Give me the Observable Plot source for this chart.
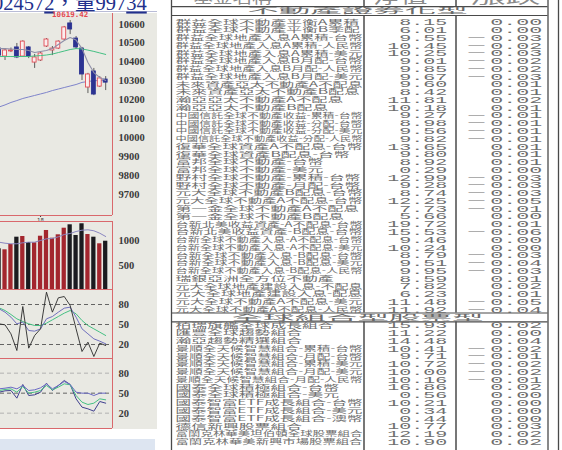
<!DOCTYPE html>
<html><head><meta charset="utf-8">
<script src="https://cdn.jsdelivr.net/npm/d3@7"></script>
<script src="https://cdn.jsdelivr.net/npm/@observablehq/plot@0.6"></script>
<style>
body{margin:0;background:#fff;}
#root{position:relative;width:562px;height:450px;overflow:hidden;background:#fff;}
.blk{position:absolute;}
</style></head>
<body><div id="root"></div>
<script>
// ---------------- DATA ----------------
const headlineParts = [{t:"02457"},{t:"2",u:true},{t:"，量997"},{t:"34",u:true}];
const open  = [10471,10429,10456,10477,10429,10477,10397,10408,10482,10461,10471,10519,10604,10524,10471,10265,10350,10270,10307];
const high  = [10477,10471,10474,10498,10512,10482,10440,10450,10524,10482,10512,10588,10619.42,10535,10477,10340,10366,10323,10323];
const low   = [10429,10408,10450,10418,10424,10418,10366,10403,10477,10434,10466,10514,10545,10466,10302,10233,10222,10265,10249];
const close = [10434,10461,10461,10424,10508,10429,10424,10445,10519,10471,10508,10583,10572,10477,10334,10334,10228,10313,10291];
const ma5   = [10471,10471,10469,10466,10466,10461,10450,10456,10461,10471,10493,10514,10530,10516,10471,10397,10344,10318,10302];
const ma20  = [10429,10429,10429,10429,10429,10429,10432,10434,10437,10442,10450,10458,10466,10471,10469,10463,10456,10448,10440];
const ma60  = [10162,10173,10186,10196,10207,10215,10223,10231,10239,10249,10257,10265,10273,10281,10292,10297,10301,10302,10305];
const volume= [838,817,927,1077,1091,968,962,1097,1215,1056,1126,1262,1332,1112,1353,1132,1077,941,994];
const volMa = [974,953,941,941,962,974,974,1009,1044,1050,1085,1132,1153,1194,1221,1229,1209,1159,1091];
const kdBlack = [51,49.5,36,11,77,14.5,33.5,43.5,98.5,68.5,90,92,78.5,43.5,9.5,23.5,2,22,18.5];
const kdPurple= [73.5,68.5,61,51,53.5,41,40,43.5,58.5,62,68.5,74.5,76,61,43.5,36,28.5,25,21];
const kdGreen = [75,71,65,58.5,54.5,51,48.5,48.5,52,57,62,67,71,66,56,48.5,43.5,38.5,33.5];
const oscA = [56.5,57.5,59,56.5,61.5,54,55,58,64,56.5,61.5,67.5,63,51.5,50,50,46.5,50,50];
const oscB = [54,55.5,56.5,51.5,60,50,51.5,54,61.5,55,59,64,62.5,46.5,36.5,33,35,41.5,40];
const oscC = [51.5,53.5,54,42.5,63,46.5,47.5,51.5,65,54,61.5,69,63,41.5,29,26.5,23,37.5,35];
const priceTicks = [9700,9800,9900,10000,10100,10200,10300,10400,10500,10600];
const volTicks = [500,1000];
const oscTicks = [20,50,80];
const dateTicks = [{i:7,label:"18"}];

const tableHeaders = ["基金名稱","淨值","漲跌"];
const sectionTitles = ["不動產證券化型","全球組合型股票型"];
const sec1Names = ["群益全球不動產平衡A累積","群益全球不動產平衡B季配","群益全球地產入息A累積-台幣","群益全球地產入息A累積-人民幣","群益全球地產入息A累積-美元","群益全球地產入息B月配-台幣","群益全球地產入息B月配-人民幣","群益全球地產入息B月配-美元","未來資產亞太不動產A不配息","未來資產亞太不動產B配息","瀚亞亞太不動產A不配息","瀚亞亞太不動產B配息","中國信託全球不動產收益-累積-台幣","中國信託全球不動產收益-分配-台幣","中國信託全球不動產收益-分配-美元","中國信託全球不動產收益-分配-人民幣","復華全球資產A不配息-台幣","復華全球資產B配息-台幣","富邦全球不動產-台幣","富邦全球不動產-美元","野村全球不動產-累積-台幣","野村全球不動產-月配-台幣","元大全球不動產B配息-台幣","元大全球不動產A不配息-台幣","第一金全球不動產A不配息","第一金全球不動產B配息","台新北美收益資產-A不配息-台幣","台新北美收益資產-B配息-台幣","台新全球不動產入息-A不配息-台幣","台新全球不動產入息-A不配息-美元","台新全球不動產入息-B配息-台幣","台新全球不動產入息-B配息-美元","台新全球不動產入息-B配息-人民幣","瑞銀亞洲全方位不動產","元大全球地產建設入息-不配息","元大全球地產建設入息-配息","元大全球不動產A不配息-美元","元大全球不動產A不配息-人民幣"];
const sec1Nav = [8.15,6.01,9.55,10.45,10.25,9.01,9.85,9.67,9.60,8.42,11.81,10.18,9.27,8.98,9.56,9.82,13.65,9.80,8.92,0.29,12.99,9.28,8.74,12.25,7.73,5.66,19.72,15.53,9.46,10.24,8.79,9.51,9.95,8.59,7.82,6.23,11.48,11.92];
const sec1Chg = [0.00,0.00,-0.03,-0.02,-0.03,-0.02,-0.02,-0.03,0.01,0.01,0.02,0.01,-0.01,-0.01,-0.01,-0.01,0.01,0.01,0.01,0.00,-0.03,-0.03,-0.03,-0.05,-0.01,0.00,0.01,-0.06,0.00,0.00,-0.03,-0.04,-0.03,0.01,0.02,0.01,-0.05,-0.04];
const sec2Names = ["柏瑞旗艦全球成長組合","匯豐全球趨勢組合","瀚亞趨勢精選組合","景順全天候智慧組合-累積-台幣","景順全天候智慧組合-月配-台幣","景順全天候智慧組合-累積-美元","景順全天候智慧組合-月配-美元","景順全天候智慧組合-月配-人民幣","國泰全球積極組合-台幣","國泰全球積極組合-美元","國泰智富ETF成長組合-台幣","國泰智富ETF成長組合-美元","國泰智富ETF成長組合-澳幣","德信新興股票組合","富蘭克林華美坦伯頓全球股票組合","富蘭克林華美新興市場股票組合"];
const sec2Nav = [15.93,11.22,14.48,10.41,9.71,10.72,10.00,10.16,16.86,0.56,10.21,0.34,0.44,10.77,12.19,10.90];
const sec2Chg = [0.02,0.00,0.04,-0.02,-0.01,-0.02,-0.02,-0.01,0.02,0.00,0.00,0.00,0.00,0.03,0.02,0.02];

// ---------------- LAYOUT ----------------
const root = document.getElementById("root");
function place(el, left, top){ el.style.position="absolute"; el.style.left=left+"px"; el.style.top=top+"px"; root.appendChild(el); return el; }
function block(left, top, w, h, bg){ const d=document.createElement("div"); d.className="blk"; Object.assign(d.style,{left:left+"px",top:top+"px",width:w+"px",height:h+"px",background:bg}); root.appendChild(d); return d; }

block(0, 13, 157, 416, "#e9e9e3");
block(0, 439, 155, 11, "#dde5f1");
block(0, 11, 157, 1, "#b9bcd6");

// headline
const hl = d3.create("svg").attr("width",157).attr("height",14).style("overflow","visible");
const ht = hl.append("text").attr("x",-7).attr("y",9.5).attr("font-family","Liberation Serif, Noto Sans CJK TC")
  .attr("font-size",20.5).attr("fill","#22308c");
headlineParts.forEach(p => ht.append("tspan").text(p.t).style("text-decoration", p.u ? "underline" : "none"));
place(hl.node(), 0, 0);

const candles = open.map((o,i)=>({i, o, h:high[i], l:low[i], c:close[i], v:volume[i], up: close[i] >= o}));
const xDomain = [0.236, 19.15];
const border = "#d9686c";
const axisStyle = {anchor:"right", label:null, tickSize:0, tickPadding:6, tickFormat:d=>String(d), fontSize:10.5,
  fontFamily:"Liberation Serif", fontWeight:"bold", color:"#3a3a3a"};
const series = arr => arr.map((v,i)=>({i, v}));

function panel(top, opts, marks){
  const p = Plot.plot(Object.assign({
    width:157, marginLeft:0, marginRight:45, marginTop:0, marginBottom:0,
    x:{domain:xDomain, axis:null},
    style:{background:"transparent", overflow:"visible"},
    marks
  }, opts));
  return place(p, 0, top);
}

// price panel
const priceDomain = [9588, 10656.6];
const maxHigh = d3.max(high);
panel(0, {height:221, marginTop:13, marginBottom:6, y:{domain:priceDomain, axis:null}}, [
  Plot.axisY(priceTicks, axisStyle),
  Plot.axisX(dateTicks.map(d=>d.i), {anchor:"bottom", label:null, tickSize:2, tickPadding:0,
    tickFormat:i=>dateTicks.find(d=>d.i===i).label, fontSize:6, color:"#333"}),
  Plot.ruleX([xDomain[1]], {stroke:border}),
  Plot.ruleY([priceDomain[0]], {stroke:border}),
  Plot.line(series(ma60), {x:"i", y:"v", stroke:"#7f84cb", strokeWidth:1}),
  Plot.ruleX(candles, {x:"i", y1:"l", y2:"h", stroke:"#3a3a3a", strokeWidth:0.8}),
  Plot.rect(candles.filter(d=>d.up), {x1:d=>d.i-0.33, x2:d=>d.i+0.33, y1:"o", y2:"c", fill:"#fbeeee", stroke:"#e14d57", strokeWidth:0.9}),
  Plot.rect(candles.filter(d=>!d.up), {x1:d=>d.i-0.33, x2:d=>d.i+0.33, y1:"o", y2:"c", fill:"#2c3392", stroke:"#2c3392", strokeWidth:0.9}),
  Plot.line(series(ma20), {x:"i", y:"v", stroke:"#45c083", strokeWidth:1}),
  Plot.line(series(ma5), {x:"i", y:"v", stroke:"#8f8fa8", strokeWidth:1.1}),
  Plot.text(candles.filter(d=>d.h===maxHigh), {x:"i", y:"h", text:d=>d.h.toFixed(2), dy:-5.5,
    fill:"#e5484f", fontSize:7.5, fontFamily:"DejaVu Sans Mono", fontWeight:"bold"})
]);

// volume panel
const volDomain = [0, 1400];
panel(221, {height:68, y:{domain:volDomain, axis:null}}, [
  Plot.axisY(volTicks, axisStyle),
  Plot.rect(candles, {x1:d=>d.i-0.36, x2:d=>d.i+0.36, y1:()=>0, y2:"v", fill:d=>d.up ? "#a3262e" : "#1b1b1f"}),
  Plot.line(series(volMa), {x:"i", y:"v", stroke:"#8a86c0", strokeWidth:1}),
  Plot.ruleX([xDomain[1]], {stroke:border}),
  Plot.ruleY(volDomain, {stroke:border})
]);

// KD panel
const kdDomain = [-1, 102.5];
panel(289, {height:69, y:{domain:kdDomain, axis:null}}, [
  Plot.ruleY(oscTicks, {stroke:"#555", strokeDasharray:"4,3", strokeWidth:0.9}),
  Plot.axisY(oscTicks, axisStyle),
  Plot.line(series(kdGreen), {x:"i", y:"v", stroke:"#45c083", strokeWidth:1}),
  Plot.line(series(kdPurple), {x:"i", y:"v", stroke:"#6f6fbd", strokeWidth:1}),
  Plot.line(series(kdBlack), {x:"i", y:"v", stroke:"#2a2a2a", strokeWidth:0.9}),
  Plot.ruleX([xDomain[1]], {stroke:border}),
  Plot.ruleY([kdDomain[0]], {stroke:border})
]);

// oscillator panel
const oscDomain = [-3, 102];
panel(358, {height:70, y:{domain:oscDomain, axis:null}}, [
  Plot.ruleY([20,80], {stroke:"#aaa", strokeDasharray:"4,3", strokeWidth:0.9}),
  Plot.ruleY([50], {stroke:"#555", strokeDasharray:"4,3", strokeWidth:0.9}),
  Plot.axisY(oscTicks, axisStyle),
  Plot.line(series(oscC), {x:"i", y:"v", stroke:"#40408f", strokeWidth:1}),
  Plot.line(series(oscB), {x:"i", y:"v", stroke:"#45c083", strokeWidth:1}),
  Plot.line(series(oscA), {x:"i", y:"v", stroke:"#6a6ac4", strokeWidth:1}),
  Plot.ruleX([xDomain[1]], {stroke:border}),
  Plot.ruleY([oscDomain[0]], {stroke:border})
]);

// ---------------- TABLE ----------------
const rowPitch = 7.77, firstRowY = 21.7;
const yTop = (0 - firstRowY)/rowPitch, yBot = (450 - firstRowY)/rowPitch;
const sectionSlots = [-1.44, sec1Names.length];
const headerSlot = -3.18;
const half = 0.57;
const rows = [
  ...sec1Names.map((name,k)=>({slot:k, name, nav:sec1Nav[k], chg:sec1Chg[k]})),
  ...sec2Names.map((name,k)=>({slot:sec1Names.length+1+k, name, nav:sec2Nav[k], chg:sec2Chg[k]}))
];
const L = {left:11, div1:203.5, div2:295.5, right:387.5, outer:398, nameX:15, navX:286.7, chgX:381.7, dashX:316, sectionX:197,
  headerX:[72,240,345], headerW:[78,54,70]};
const dividerSegs = [];
[L.div1, L.div2].forEach(x=>{
  dividerSegs.push({x, y1:yTop, y2:sectionSlots[0]-half});
  dividerSegs.push({x, y1:sectionSlots[0]+half, y2:sectionSlots[1]-half});
  dividerSegs.push({x, y1:sectionSlots[1]+half, y2:yBot});
});
const hLines = sectionSlots.flatMap(s=>[s-half, s+half]);
const gray = "#6e6e6e";

const tbl = Plot.plot({
  width:402, height:450, margin:0,
  x:{type:"identity", axis:null},
  y:{domain:[yTop, yBot], range:[0,450], axis:null},
  style:{background:"#fff", overflow:"hidden"},
  marks:[
    Plot.ruleX([L.left, L.right, L.outer], {stroke:"#4a4a4a", strokeWidth:1.3}),
    Plot.ruleX(dividerSegs, {x:"x", y1:"y1", y2:"y2", stroke:"#4a4a4a", strokeWidth:1.5}),
    Plot.ruleY(hLines, {y:d=>d, x1:()=>L.left, x2:()=>L.right, stroke:"#4a4a4a", strokeWidth:1.1}),
    Plot.text(tableHeaders, {x:(d,i)=>L.headerX[i], y:()=>headerSlot, text:d=>d,
      fontSize:16, fontFamily:"Noto Sans CJK TC", fill:"#8a8a8a"}),
    Plot.text(sectionTitles, {x:()=>L.sectionX, y:(d,i)=>sectionSlots[i], text:d=>d,
      fontSize:7.4, fontFamily:"Noto Sans CJK TC", fill:"#6a6a6a"}),
    Plot.text(rows, {x:()=>L.nameX, y:"slot", text:"name", textAnchor:"start",
      fontSize:7.2, fontFamily:"Noto Sans CJK TC", fill:gray}),
    Plot.text(rows, {x:()=>L.navX, y:"slot", text:d=>d.nav.toFixed(2), textAnchor:"end",
      fontSize:9.5, fontFamily:"Liberation Mono", fill:gray}),
    Plot.text(rows.filter(d=>d.chg<0), {x:()=>L.dashX, y:"slot", text:()=>"—", dy:-0.8,
      fontSize:9, fontFamily:"Liberation Sans", fill:gray}),
    Plot.text(rows, {x:()=>L.chgX, y:"slot", text:d=>Math.abs(d.chg).toFixed(2), textAnchor:"end",
      fontSize:9.5, fontFamily:"Liberation Mono", fill:gray})
  ]
});
place(tbl, 160, 0);

// order of text groups: headers, sections, names, nav, dash, chg
const groups = tbl.querySelectorAll('g[aria-label="text"]');
function stretch(g, fn){
  g.querySelectorAll("text").forEach((t,i)=>{
    const w = fn(t, i);
    t.setAttribute("textLength", w);
    t.setAttribute("lengthAdjust", "spacingAndGlyphs");
  });
}
stretch(groups[0], (t,i)=>L.headerW[i]);
stretch(groups[1], t=>t.textContent.length*31.5);
stretch(groups[2], t=>Math.min(t.getComputedTextLength()*2.2, 187));
stretch(groups[3], t=>t.textContent.length*12);
stretch(groups[4], ()=>16);
stretch(groups[5], t=>t.textContent.length*13);
</script></body></html>
